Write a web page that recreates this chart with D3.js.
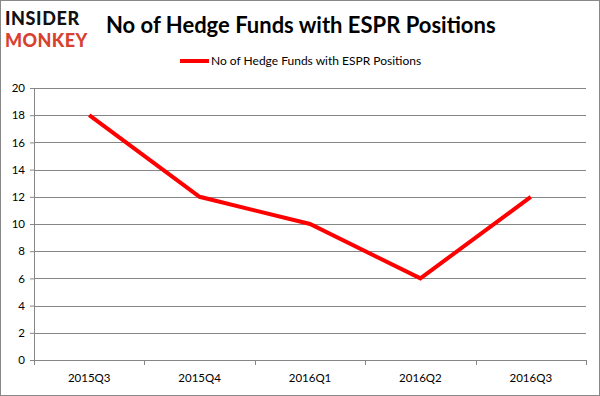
<!DOCTYPE html>
<html>
<head>
<meta charset="utf-8">
<script src="https://cdnjs.cloudflare.com/ajax/libs/d3/7.8.5/d3.min.js"></script>
<style>
  body { margin: 0; background: #fff; }
  text { font-family: Lato, "Open Sans", sans-serif; }
</style>
</head>
<body>
<svg id="chart"></svg>
<script>
// chart values
var quarters = ["2015Q3", "2015Q4", "2016Q1", "2016Q2", "2016Q3"];
var funds = [18, 12, 10, 6, 12];
var yTicks = [0, 2, 4, 6, 8, 10, 12, 14, 16, 18, 20];
var seriesName = "No of Hedge Funds with ESPR Positions";

var W = 600, H = 396;
var margin = {top: 88, right: 14, bottom: 36, left: 34},
    width = W - margin.left - margin.right,
    height = H - margin.top - margin.bottom;

var svg = d3.select("#chart")
    .attr("width", W)
    .attr("height", H);

// outer frame
svg.append("rect")
    .attr("x", 0.5).attr("y", 0.5)
    .attr("width", W - 1).attr("height", H - 1)
    .style("fill", "#fff")
    .style("stroke", "#888");

// logo
var logo = svg.append("g").style("font-weight", "900");
logo.append("text")
    .attr("x", 5).attr("y", 25)
    .style("font-size", "18px")
    .style("letter-spacing", "0.6px")
    .style("fill", "#111")
    .text("INSIDER");
logo.append("text")
    .attr("x", 5).attr("y", 47)
    .style("font-size", "18px")
    .style("letter-spacing", "0.4px")
    .style("fill", "#d8412f")
    .text("MONKEY");

// title
svg.append("text")
    .attr("x", 106).attr("y", 33)
    .style("font-size", "22px")
    .style("font-weight", "bold")
    .style("fill", "#000")
    .text(seriesName);

// legend
svg.append("line")
    .attr("x1", 180).attr("x2", 209)
    .attr("y1", 61).attr("y2", 61)
    .style("stroke", "#ff0000")
    .style("stroke-width", 4);
svg.append("text")
    .attr("x", 211).attr("y", 65)
    .style("font-size", "12px")
    .style("fill", "#000")
    .text(seriesName);

var g = svg.append("g")
    .attr("transform", "translate(" + margin.left + "," + margin.top + ")");

var x = d3.scaleBand().domain(quarters).range([0, width]);
var y = d3.scaleLinear().domain([0, 20]).range([height, 0]);

// gridlines
g.selectAll(".grid")
    .data(yTicks)
  .enter().append("line")
    .attr("class", "grid")
    .attr("x1", 0).attr("x2", width)
    .attr("y1", function(d) { return Math.round(y(d)) + 0.5; })
    .attr("y2", function(d) { return Math.round(y(d)) + 0.5; })
    .style("stroke", "#868686");

var yAxis = d3.axisLeft(y).tickValues(yTicks).tickSize(4).tickPadding(5);
var yg = g.append("g").call(yAxis);

var xAxis = d3.axisBottom(x).tickSize(0).tickPadding(14);
var xg = g.append("g")
    .attr("transform", "translate(0," + height + ")")
    .call(xAxis);

// category boundary ticks
xg.selectAll(".bound")
    .data(d3.range(quarters.length + 1))
  .enter().append("line")
    .attr("class", "bound")
    .attr("x1", function(i) { return Math.round(i * x.step()) + 0.5; })
    .attr("x2", function(i) { return Math.round(i * x.step()) + 0.5; })
    .attr("y1", 0).attr("y2", 5)
    .style("stroke", "#868686");

[yg, xg].forEach(function(a) {
  a.select(".domain").style("stroke", "#868686");
  a.selectAll(".tick line").style("stroke", "#868686");
  a.selectAll("text").style("font-size", "11.5px").style("fill", "#000")
    .style("font-family", "Lato, 'Open Sans', sans-serif");
});
yg.select(".domain").attr("d", "M-4," + (height + 0.5) + "H0.5V0");

var line = d3.line()
    .x(function(d, i) { return x(quarters[i]) + x.bandwidth() / 2; })
    .y(function(d) { return y(d); });

g.append("path")
    .datum(funds)
    .attr("d", line)
    .style("fill", "none")
    .style("stroke", "#ff0000")
    .style("stroke-width", 4);
</script>
</body>
</html>
